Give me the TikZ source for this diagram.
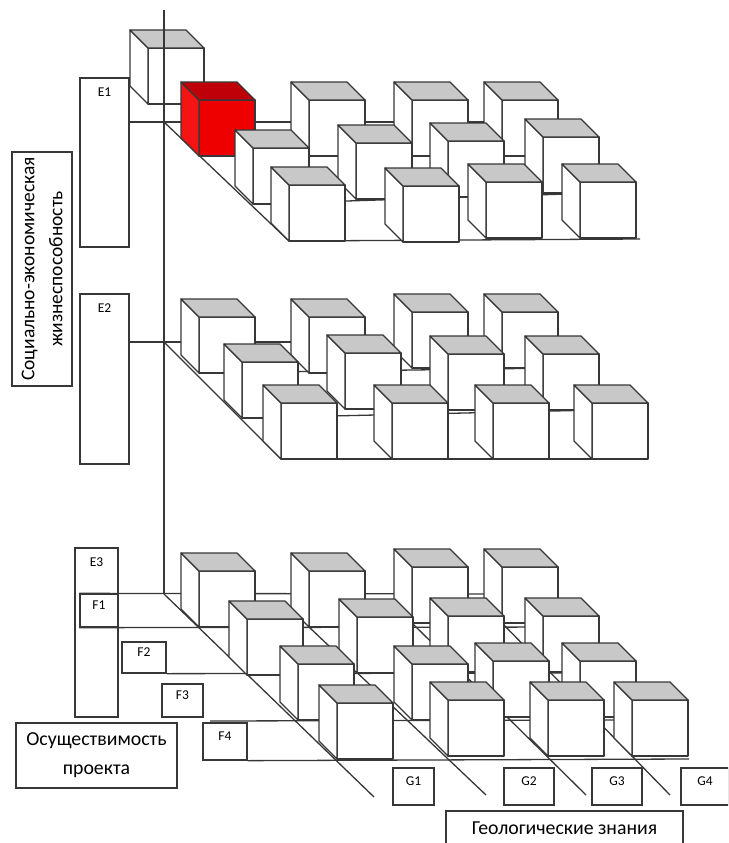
\documentclass[tikz,border=0pt]{standalone}
\usepackage{fontspec}
\setmainfont{Carlito}
\usepackage{tikz}
\definecolor{linegray}{RGB}{55,55,55}
\definecolor{topgray}{RGB}{200,200,200}
\definecolor{cubered}{RGB}{238,0,0}
\definecolor{redside}{RGB}{245,20,20}
\definecolor{redtop}{RGB}{192,0,8}
\tikzset{
  line/.style={draw=linegray, line width=1.3pt},
  face/.style={line, fill=white, line join=round},
  tagbox/.style={line, font=\fontsize{13.5}{16}\selectfont, inner sep=0pt, text height=9pt, text depth=11pt},
  ebox/.style={tagbox, inner sep=2pt, text depth=142pt},
  bigbox/.style={line, font=\fontsize{19.8}{29}\selectfont, align=center, inner sep=0pt}
}
\def\cubeat#1#2{%
  \draw[face] (#1,#2) rectangle ++(56,56);
  \draw[face] (#1,#2) -- ++(-18,-18) -- ++(0,56) -- ++(18,18) -- cycle;
  \draw[face,fill=topgray] (#1,#2) -- ++(-18,-18) -- ++(56,0) -- ++(18,18) -- cycle;
}
\def\redcube#1#2{%
  \draw[face,fill=cubered] (#1,#2) rectangle ++(56,56);
  \draw[face,fill=redside] (#1,#2) -- ++(-18,-18) -- ++(0,56) -- ++(18,18) -- cycle;
  \draw[face,fill=redtop] (#1,#2) -- ++(-18,-18) -- ++(56,0) -- ++(18,18) -- cycle;
}

\begin{document}
\begin{tikzpicture}[x=1pt,y=-1pt]
\useasboundingbox (0,0) rectangle (728,843);
\clip (0,0) rectangle (728,843);

%put boxes
%E
\node[ebox, minimum width=49pt, minimum height=169pt] (E1) at (104.5,162.5) {E1};
\node[ebox, minimum width=49pt, minimum height=170pt] (E2) at (104.5,379) {E2};
\node[ebox, minimum width=43pt, minimum height=169pt] (E3) at (96.5,632.5) {E3};
%F
\node[tagbox, minimum width=38pt, minimum height=33pt] (F1) at (99,610.5) {F1};
\node[tagbox, minimum width=44pt, minimum height=31pt] (F2) at (144,657.5) {F2};
\node[tagbox, minimum width=41pt, minimum height=33pt] (F3) at (182.5,700.5) {F3};
\node[tagbox, minimum width=44pt, minimum height=37pt] (F4) at (225,741.5) {F4};
%G
\node[tagbox, minimum width=41pt, minimum height=37pt] (G1) at (413.5,786.5) {G1};
\node[tagbox, minimum width=50pt, minimum height=37pt] (G2) at (529,786.5) {G2};
\node[tagbox, minimum width=50pt, minimum height=37pt] (G3) at (617,786.5) {G3};
\node[tagbox, minimum width=48pt, minimum height=37pt] (G4) at (705,786.5) {G4};
%captions
\node[bigbox, rotate=90, minimum width=234pt, minimum height=60pt, font=\fontsize{19.5}{28}\selectfont] (socio) at (42,269) {Социально-экономическая\\жизнеспособность};
\node[bigbox, minimum width=161pt, minimum height=65pt] (feas) at (96.5,755.5) {Осуществимость\\проекта};
\node[bigbox, minimum width=237pt, minimum height=34pt] (geo) at (564.5,828) {Геологические знания};

%axis
\coordinate (top) at (164,10);
\coordinate (O1) at (164,122);
\coordinate (O2) at (164,342);
\coordinate (O3) at (164,594);
\cubeat{148}{48}
\draw[line] (top) to (O3);

%E1 level
%lines
\draw[line] (E1.east |- O1) to (540,122);
\draw[line] (O1) to (289,241);
\draw[line] (199,156) to (557,156);
\draw[line] (253,204) to (598,193);
\draw[line] (289,241) to (640,239);
%cubes
\redcube{199}{100}
\cubeat{309}{100}
\cubeat{412}{100}
\cubeat{502}{100}
\cubeat{253}{148}
\cubeat{356}{143}
\cubeat{448}{141}
\cubeat{543}{137}
\cubeat{289}{185}
\cubeat{403}{186}
\cubeat{486}{182}
\cubeat{580}{182}

%E2 level
%lines
\draw[line] (E2.east |- O2) to (300,342);
\draw[line] (O2) to (281,459);
\draw[line] (199,373) to (557,368);
\draw[line] (242,418) to (598,410);
\draw[line] (281,459) to (647,459);
%cubes
\cubeat{199}{317}
\cubeat{309}{317}
\cubeat{412}{312}
\cubeat{502}{312}
\cubeat{242}{362}
\cubeat{345}{353}
\cubeat{448}{354}
\cubeat{543}{354}
\cubeat{281}{403}
\cubeat{392}{403}
\cubeat{493}{403}
\cubeat{592}{403}

%E3 level
%lines
\draw[line] (F1.north west) to (540,594);
\draw[line] (F1.south west) to (590,627);
\draw[line] (F2.south east) to (598,673);
\draw[line] (210,721) to (636,720);
\draw[line] (F4.south east) to (689,759);
%G chains
\draw[line] (O3) to (374,797);
\draw[line] (309,627) to (486,795);
\draw[line] (412,623) to (586,795);
\draw[line] (502,623) to (670,795);
%cubes
\cubeat{199}{571}
\cubeat{309}{571}
\cubeat{412}{567}
\cubeat{502}{567}
\cubeat{247}{619}
\cubeat{357}{617}
\cubeat{448}{616}
\cubeat{543}{616}
\cubeat{298}{664}
\cubeat{412}{664}
\cubeat{493}{661}
\cubeat{580}{661}
\cubeat{337}{703}
\cubeat{448}{700}
\cubeat{548}{700}
\cubeat{632}{700}
\end{tikzpicture}
\end{document}
